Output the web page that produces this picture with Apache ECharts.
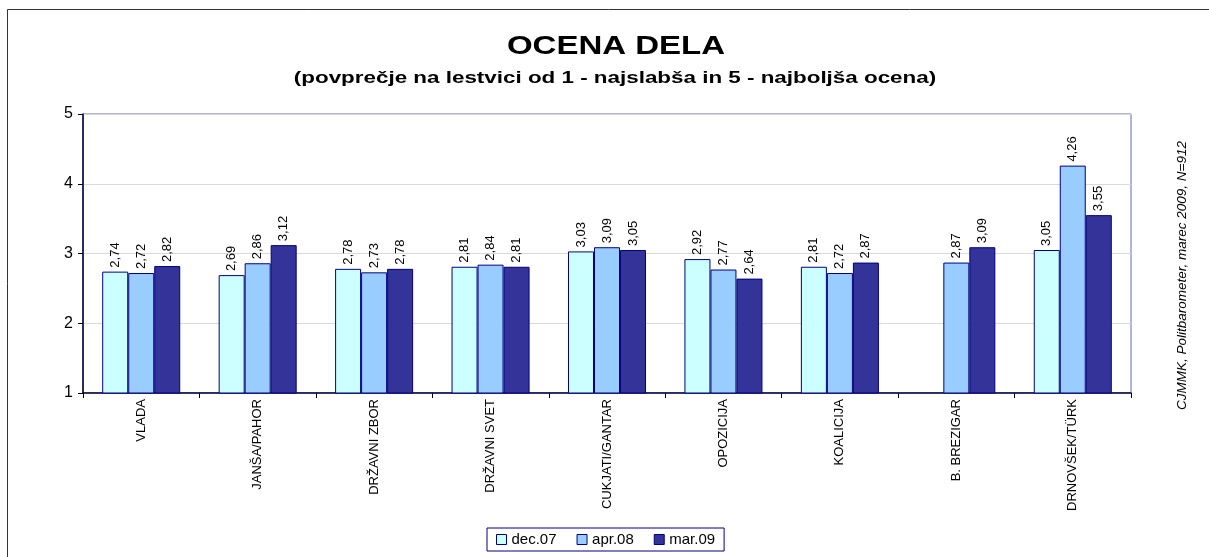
<!DOCTYPE html>
<html lang="sl">
<head>
    <meta charset="UTF-8">
    <title>OCENA DELA</title>
    <script src="https://cdn.jsdelivr.net/npm/echarts@6/dist/echarts.min.js"></script>
    <style>
        html, body { margin: 0; padding: 0; background: #fff; }
        #main { width: 1209px; height: 557px; }
    </style>
</head>
<body>
<div id="main"></div>
<script type="text/javascript">
    // podatki
    var kategorije = ['VLADA', 'JANŠA/PAHOR', 'DRŽAVNI ZBOR', 'DRŽAVNI SVET', 'CUKJATI/GANTAR',
        'OPOZICIJA', 'KOALICIJA', 'B. BREZIGAR', 'DRNOVŠEK/TÜRK'];
    var obdobja = ['dec.07', 'apr.08', 'mar.09'];
    var dec07 = [2.74, 2.69, 2.78, 2.81, 3.03, 2.92, 2.81, null, 3.05];
    var apr08 = [2.72, 2.86, 2.73, 2.84, 3.09, 2.77, 2.72, 2.87, 4.26];
    var mar09 = [2.82, 3.12, 2.78, 2.81, 3.05, 2.64, 2.87, 3.09, 3.55];
    var barve = ['#CCFFFF', '#99CCFF', '#333399'];

    var chartDom = document.getElementById('main');
    var myChart = echarts.init(chartDom);
    var font = 'Arial, "Liberation Sans", sans-serif';

    function serija(ime, podatki, barva) {
        return {
            name: ime,
            type: 'bar',
            data: podatki,
            barGap: '0%',
            barCategoryGap: '33%',
            itemStyle: { color: barva, borderColor: '#000080', borderWidth: 1 },
            label: {
                show: true,
                position: 'top',
                rotate: 90,
                align: 'left',
                verticalAlign: 'middle',
                distance: 4,
                fontFamily: font,
                fontSize: 13,
                color: '#000',
                formatter: function (p) {
                    return p.value == null ? '' : p.value.toFixed(2).replace('.', ',');
                }
            }
        };
    }

    var option = {
        animation: false,
        textStyle: { fontFamily: font },
        graphic: [{
            type: 'rect',
            shape: { x: 7.5, y: 9.5, width: 1220, height: 560 },
            style: { fill: null, stroke: '#333', lineWidth: 1 },
            silent: true
        }, {
            // naslov (v originalu razprt)
            type: 'text',
            x: 616,
            y: 47,
            scaleX: 1.32,
            style: {
                text: 'OCENA DELA',
                fontFamily: font,
                fontSize: 25,
                fontWeight: 'bold',
                fill: '#000',
                align: 'center',
                verticalAlign: 'middle'
            }
        }, {
            type: 'text',
            x: 615,
            y: 79,
            scaleX: 1.4,
            style: {
                text: '(povprečje na lestvici od 1 - najslabša in 5 - najboljša ocena)',
                fontFamily: font,
                fontSize: 16,
                fontWeight: 'bold',
                fill: '#000',
                align: 'center',
                verticalAlign: 'middle'
            }
        }, {
            type: 'text',
            x: 1182,
            y: 410,
            rotation: Math.PI / 2,
            style: {
                text: 'CJMMK, Politbarometer, marec 2009, N=912',
                fontFamily: font,
                fontSize: 13.5,
                fontStyle: 'italic',
                fill: '#000',
                align: 'left',
                verticalAlign: 'middle'
            }
        }],
        legend: {
            data: obdobja,
            left: 487,
            top: 528,
            icon: 'rect',
            itemWidth: 10,
            itemHeight: 10,
            itemGap: 20,
            padding: [4, 9],
            borderColor: '#000080',
            borderWidth: 1,
            backgroundColor: '#fff',
            itemStyle: { borderColor: '#000080', borderWidth: 1 },
            textStyle: { fontSize: 15, color: '#000', fontFamily: font }
        },
        grid: {
            left: 83,
            right: 78,
            top: 114,
            bottom: 164,
            show: true,
            borderColor: '#6666AA',
            borderWidth: 1
        },
        xAxis: {
            type: 'category',
            data: kategorije,
            axisLine: { lineStyle: { color: '#000040', width: 1.5 } },
            axisTick: { show: true, length: 5, alignWithLabel: false, lineStyle: { color: '#000' } },
            axisLabel: {
                rotate: 90,
                interval: 0,
                fontSize: 13,
                color: '#000',
                fontFamily: font,
                margin: 6
            }
        },
        yAxis: {
            type: 'value',
            min: 1,
            max: 5,
            interval: 1,
            axisLine: { show: true, lineStyle: { color: '#000040', width: 1.5 } },
            axisTick: { show: true, length: 5, lineStyle: { color: '#000' } },
            axisLabel: { fontSize: 16, color: '#000', fontFamily: font, margin: 10 },
            splitLine: { lineStyle: { color: '#d9d9d9' } }
        },
        series: [
            serija(obdobja[0], dec07, barve[0]),
            serija(obdobja[1], apr08, barve[1]),
            serija(obdobja[2], mar09, barve[2])
        ]
    };

    myChart.setOption(option);
</script>
</body>
</html>
